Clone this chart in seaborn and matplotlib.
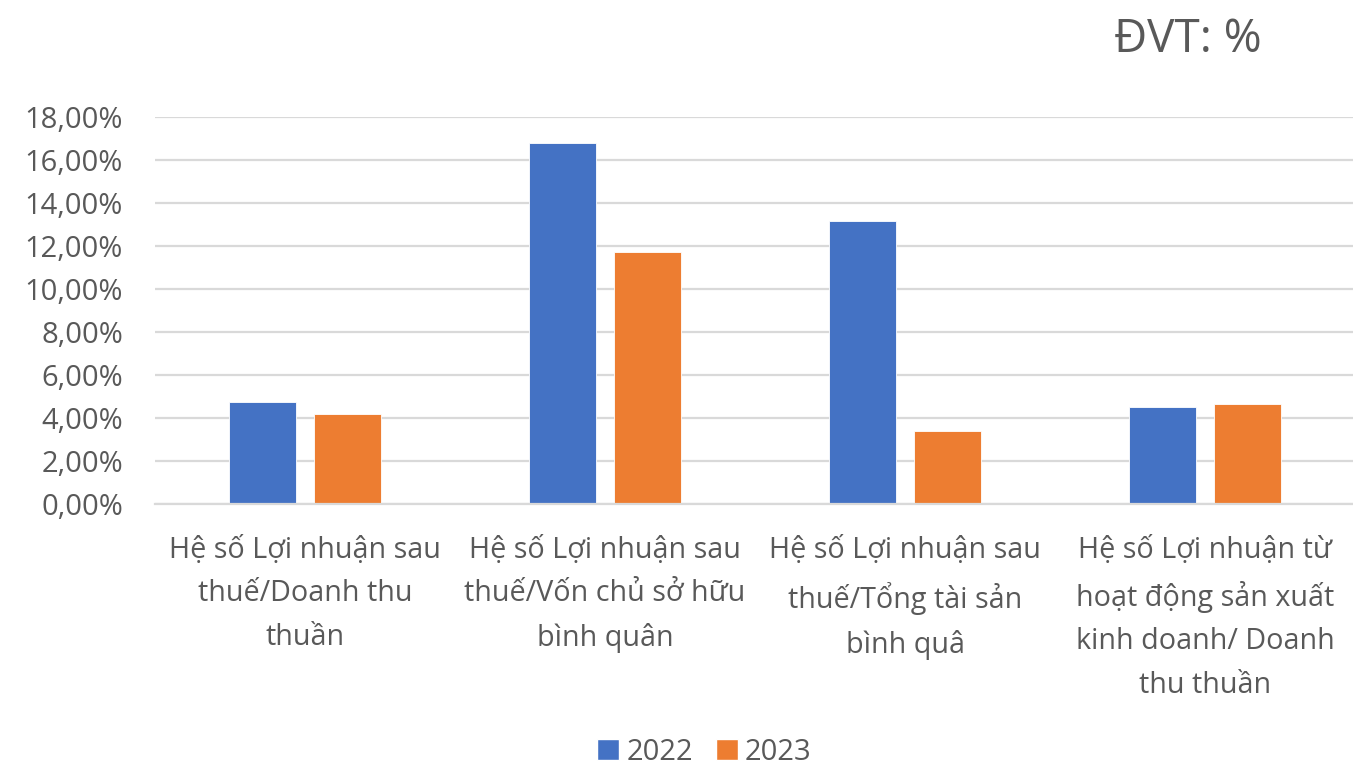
import matplotlib
matplotlib.use("Agg")
import matplotlib.pyplot as plt
from matplotlib.ticker import FuncFormatter, MultipleLocator
from matplotlib.patches import Patch
import seaborn as sns
import pandas as pd

categories = [
    "Hệ số Lợi nhuận sau\nthuế/Doanh thu\nthuần",
    "Hệ số Lợi nhuận sau\nthuế/Vốn chủ sở hữu\nbình quân",
    "Hệ số Lợi nhuận sau\nthuế/Tổng tài sản\nbình quâ",
    "Hệ số Lợi nhuận từ\nhoạt động sản xuất\nkinh doanh/ Doanh\nthu thuần",
]
years = ["2022", "2023"]
values_2022 = [4.73, 16.78, 13.15, 4.53]
values_2023 = [4.17, 11.71, 3.38, 4.63]
colors = ["#4472C4", "#ED7D31"]
text_color = "#595959"

df = pd.DataFrame({
    "category": categories * 2,
    "year": [years[0]] * 4 + [years[1]] * 4,
    "value": values_2022 + values_2023,
})

sns.set_theme(style="white")
plt.rcParams["font.family"] = ["Open Sans", "DejaVu Sans"]

fig = plt.figure(figsize=(13.53, 7.67), dpi=100)
ax = fig.add_axes([155 / 1353, 263 / 767, 1200 / 1353, 387 / 767])

sns.barplot(data=df, x="category", y="value", hue="year", palette=colors,
            width=0.57, gap=0.22, ax=ax, legend=False, saturation=1,
            edgecolor="#ffffff", linewidth=0.6)

ax.set_xlim(-0.5, 3.5)
ax.set_ylim(0, 18)
ax.yaxis.set_major_locator(MultipleLocator(2))
ax.yaxis.set_major_formatter(FuncFormatter(lambda v, _: f"{v:.2f}%".replace(".", ",")))
ax.grid(axis="y", color="#D9D9D9", linewidth=1.6)
ax.set_axisbelow(True)
for s in ["top", "right", "left"]:
    ax.spines[s].set_visible(False)
ax.spines["bottom"].set_color("#D9D9D9")
ax.spines["bottom"].set_linewidth(1.6)
ax.set_xlabel("")
ax.set_ylabel("")
ax.tick_params(axis="y", labelsize=21, colors=text_color, length=0, pad=23)
ax.tick_params(axis="x", labelsize=20.7, colors=text_color, length=0, pad=23)
for lbl in ax.get_xticklabels():
    lbl.set_linespacing(1.65)
    lbl.set_horizontalalignment("center")
    lbl.set_verticalalignment("top")
for lbl in ax.get_yticklabels():
    lbl.set_color(text_color)

fig.text(1188 / 1353, 1 - 40 / 767, "ĐVT: %", fontsize=33, color=text_color,
         ha="center", va="center")

handles = [Patch(facecolor=c, label=y) for c, y in zip(colors, years)]
fig.legend(handles=handles, loc="center", bbox_to_anchor=(0.5207, 1 - 752 / 767),
           ncol=2, frameon=False, fontsize=21, labelcolor=text_color,
           handlelength=0.75, handleheight=0.75, handletextpad=0.25, columnspacing=0.77)

fig.savefig("out.png", dpi=100)
